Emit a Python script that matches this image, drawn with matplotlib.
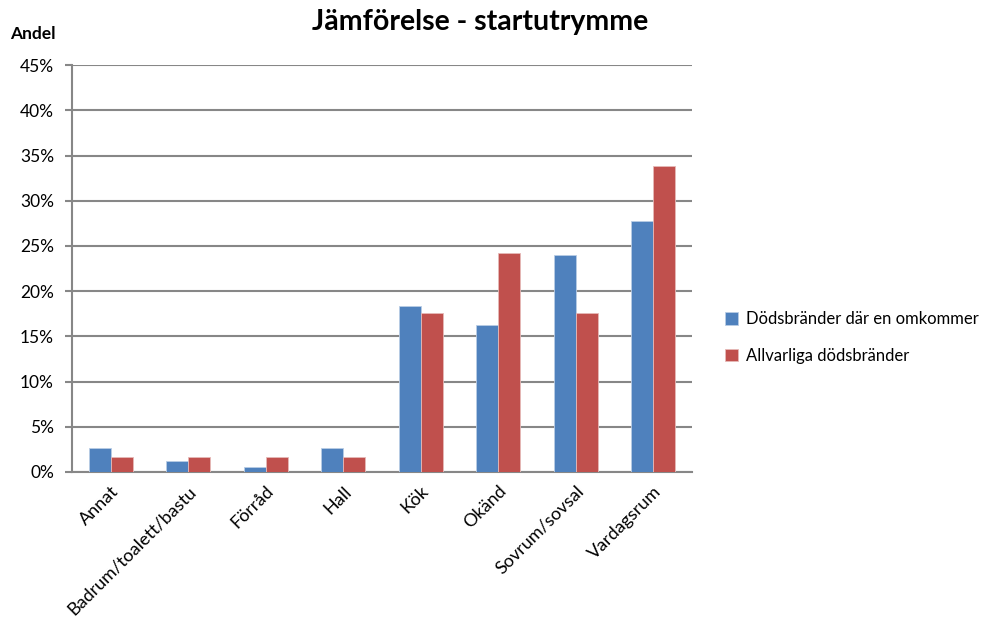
import numpy as np
import matplotlib
matplotlib.use("Agg")
import matplotlib.pyplot as plt
from matplotlib.ticker import PercentFormatter

plt.rcParams['font.family'] = ['Lato', 'DejaVu Sans']

rum = ['Annat', 'Badrum/toalett/bastu', 'Förråd', 'Hall', 'Kök', 'Okänd',
       'Sovrum/sovsal', 'Vardagsrum']
en_omkommer = [2.7, 1.2, 0.6, 2.7, 18.4, 16.3, 24.0, 27.8]
allvarliga = [1.6, 1.6, 1.6, 1.6, 17.6, 24.2, 17.6, 33.8]
serier = ['Dödsbränder där en omkommer', 'Allvarliga dödsbränder']
farger = ['#4F81BD', '#C0504D']

fig = plt.figure(figsize=(10.03, 6.21), dpi=100)
ax = fig.add_axes([0.0718, 0.240, 0.618, 0.655])

x = np.arange(len(rum))
b = 0.2857
ax.bar(x - b / 2, en_omkommer, b, color=farger[0], edgecolor='#b9cde5',
       linewidth=0.6, label=serier[0], zorder=3)
ax.bar(x + b / 2, allvarliga, b, color=farger[1], edgecolor='#e6b9b8',
       linewidth=0.6, label=serier[1], zorder=3)

ax.set_xlim(-0.5, len(rum) - 0.5)
ax.set_ylim(0, 45)
ax.set_yticks(np.arange(0, 46, 5))
ax.yaxis.set_major_formatter(PercentFormatter(decimals=0))
ax.grid(axis='y', color='#878787', linewidth=1.5, zorder=0)

for s in ['top', 'right']:
    ax.spines[s].set_visible(False)
ax.spines['left'].set_color('#878787')
ax.spines['left'].set_linewidth(1.5)
ax.spines['bottom'].set_color('#878787')
ax.spines['bottom'].set_linewidth(1.5)

ax.tick_params(axis='y', length=5, width=1.5, color='#878787', labelsize=12.5, pad=8)
ax.tick_params(axis='x', length=0, labelsize=13, pad=8)
ax.set_xticks(x)
ax.set_xticklabels(rum, rotation=45, ha='right', va='top', rotation_mode='anchor')

fig.text(0.479, 0.965, 'Jämförelse - startutrymme', ha='center', va='center',
         fontsize=20.5, fontweight='bold')
fig.text(0.010, 0.945, 'Andel', ha='left', va='center', fontsize=12.5,
         fontweight='bold')

ax.legend(loc='center left', bbox_to_anchor=(1.03, 0.33), frameon=False,
          fontsize=12, handlelength=0.75, handleheight=0.75, labelspacing=1.25,
          handletextpad=0.5)

fig.savefig('out.png', dpi=100)
